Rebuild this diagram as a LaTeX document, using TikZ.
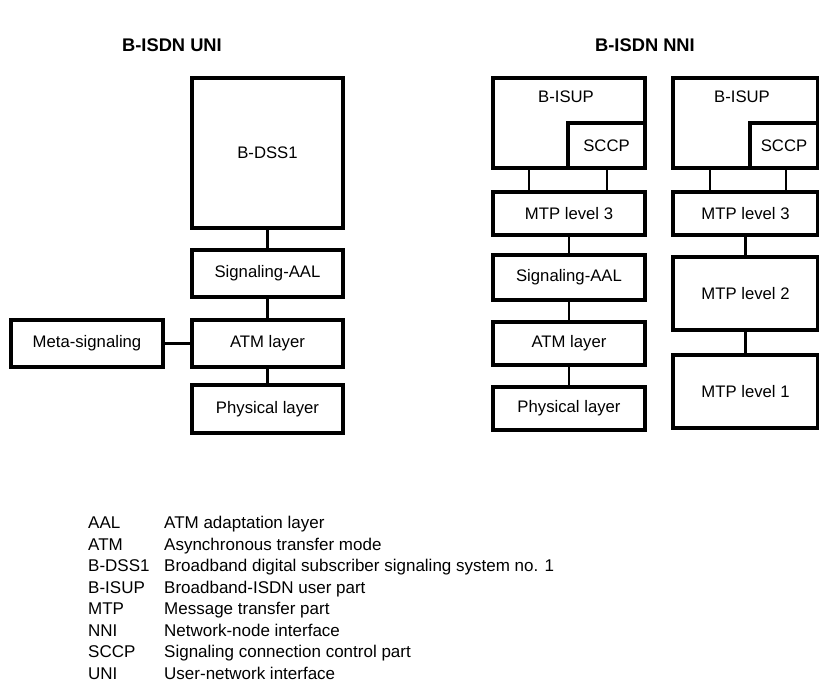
\documentclass[tikz,border=0pt]{standalone}
\usepackage{fontspec}
\setmainfont{Liberation Sans}
\begin{document}
\begin{tikzpicture}[x=1pt,y=-1pt,
  lbox/.style={draw,line width=3.2pt,inner sep=0pt,font=\fontsize{16.7}{19}\selectfont},
  conn/.style={line width=2.6pt},
  ttl/.style={font=\fontsize{18.3}{21}\selectfont\bfseries,inner sep=0pt},
  leg/.style={font=\fontsize{17}{19}\selectfont,inner sep=0pt,anchor=base west}]
\useasboundingbox (0,0) rectangle (819,684);
% titles
\node[ttl] (t1) at (172,45) {B-ISDN UNI};
\node[ttl] (t2) at (645,45) {B-ISDN NNI};
% UNI
\node[lbox,minimum width=151pt,minimum height=150pt] (dss) at (267.5,153) {B-DSS1};
\node[lbox,minimum width=151pt,minimum height=47pt] (saal) at (267.5,273.5) {Signaling-AAL};
\node[lbox,minimum width=151pt,minimum height=47pt] (atm) at (267.5,343.5) {ATM layer};
\node[lbox,minimum width=151pt,minimum height=48pt] (phy) at (267.5,409) {Physical layer};
\node[lbox,minimum width=152pt,minimum height=47pt] (meta) at (87,343.5) {Meta-signaling};
\draw[conn] (dss.south) -- (saal.north);
\draw[conn] (saal.south) -- (atm.north);
\draw[conn] (atm.south) -- (phy.north);
\draw[conn] (meta.east) -- (atm.west);
% NNI column 1
\node[lbox,minimum width=152pt,minimum height=90pt] (isup1) at (569,123) {};
\node[font=\fontsize{16.7}{19}\selectfont,inner sep=0pt] (isup1l) at (566,97) {B-ISUP};
\node[lbox,minimum width=77pt,minimum height=45pt] (sccp1) at (606.5,145.5) {SCCP};
\node[lbox,minimum width=152pt,minimum height=43pt] (mtp3a) at (569,213.5) {MTP level 3};
\node[lbox,minimum width=152pt,minimum height=45pt] (saal2) at (569,277.5) {Signaling-AAL};
\node[lbox,minimum width=152pt,minimum height=43pt] (atm2) at (569,343.5) {ATM layer};
\node[lbox,minimum width=152pt,minimum height=43pt] (phy2) at (569,408.5) {Physical layer};
\draw[conn] (isup1.south -| 529,0) -- (mtp3a.north -| 529,0);
\draw[conn] (isup1.south -| 607,0) -- (mtp3a.north -| 607,0);
\draw[conn] (mtp3a.south) -- (saal2.north);
\draw[conn] (saal2.south) -- (atm2.north);
\draw[conn] (atm2.south) -- (phy2.north);
% NNI column 2
\node[lbox,minimum width=145pt,minimum height=90pt] (isup2) at (745.5,123) {};
\node[font=\fontsize{16.7}{19}\selectfont,inner sep=0pt] (isup2l) at (742,97) {B-ISUP};
\node[lbox,minimum width=68pt,minimum height=45pt] (sccp2) at (784,145.5) {SCCP};
\node[lbox,minimum width=145pt,minimum height=43pt] (mtp3b) at (745.5,213.5) {MTP level 3};
\node[lbox,minimum width=145pt,minimum height=73pt] (mtp2) at (745.5,293.5) {MTP level 2};
\node[lbox,minimum width=145pt,minimum height=73pt] (mtp1) at (745.5,391.5) {MTP level 1};
\draw[conn] (isup2.south -| 710,0) -- (mtp3b.north -| 710,0);
\draw[conn] (isup2.south -| 786,0) -- (mtp3b.north -| 786,0);
\draw[conn] (mtp3b.south) -- (mtp2.north);
\draw[conn] (mtp2.south) -- (mtp1.north);
% legend
\node[leg] (ab1) at (88,528) {AAL};    \node[leg] (df1) at (164,528) {ATM adaptation layer};
\node[leg] (ab2) at (88,550) {ATM};    \node[leg] (df2) at (164,550) {Asynchronous transfer mode};
\node[leg] (ab3) at (88,571) {B-DSS1}; \node[leg] (df3) at (164,571) {Broadband digital subscriber signaling system no. 1};
\node[leg] (ab4) at (88,593) {B-ISUP}; \node[leg] (df4) at (164,593) {Broadband-ISDN user part};
\node[leg] (ab5) at (88,614) {MTP};    \node[leg] (df5) at (164,614) {Message transfer part};
\node[leg] (ab6) at (88,636) {NNI};    \node[leg] (df6) at (164,636) {Network-node interface};
\node[leg] (ab7) at (88,657) {SCCP};   \node[leg] (df7) at (164,657) {Signaling connection control part};
\node[leg] (ab8) at (88,679) {UNI};    \node[leg] (df8) at (164,679) {User-network interface};
\end{tikzpicture}
\end{document}
